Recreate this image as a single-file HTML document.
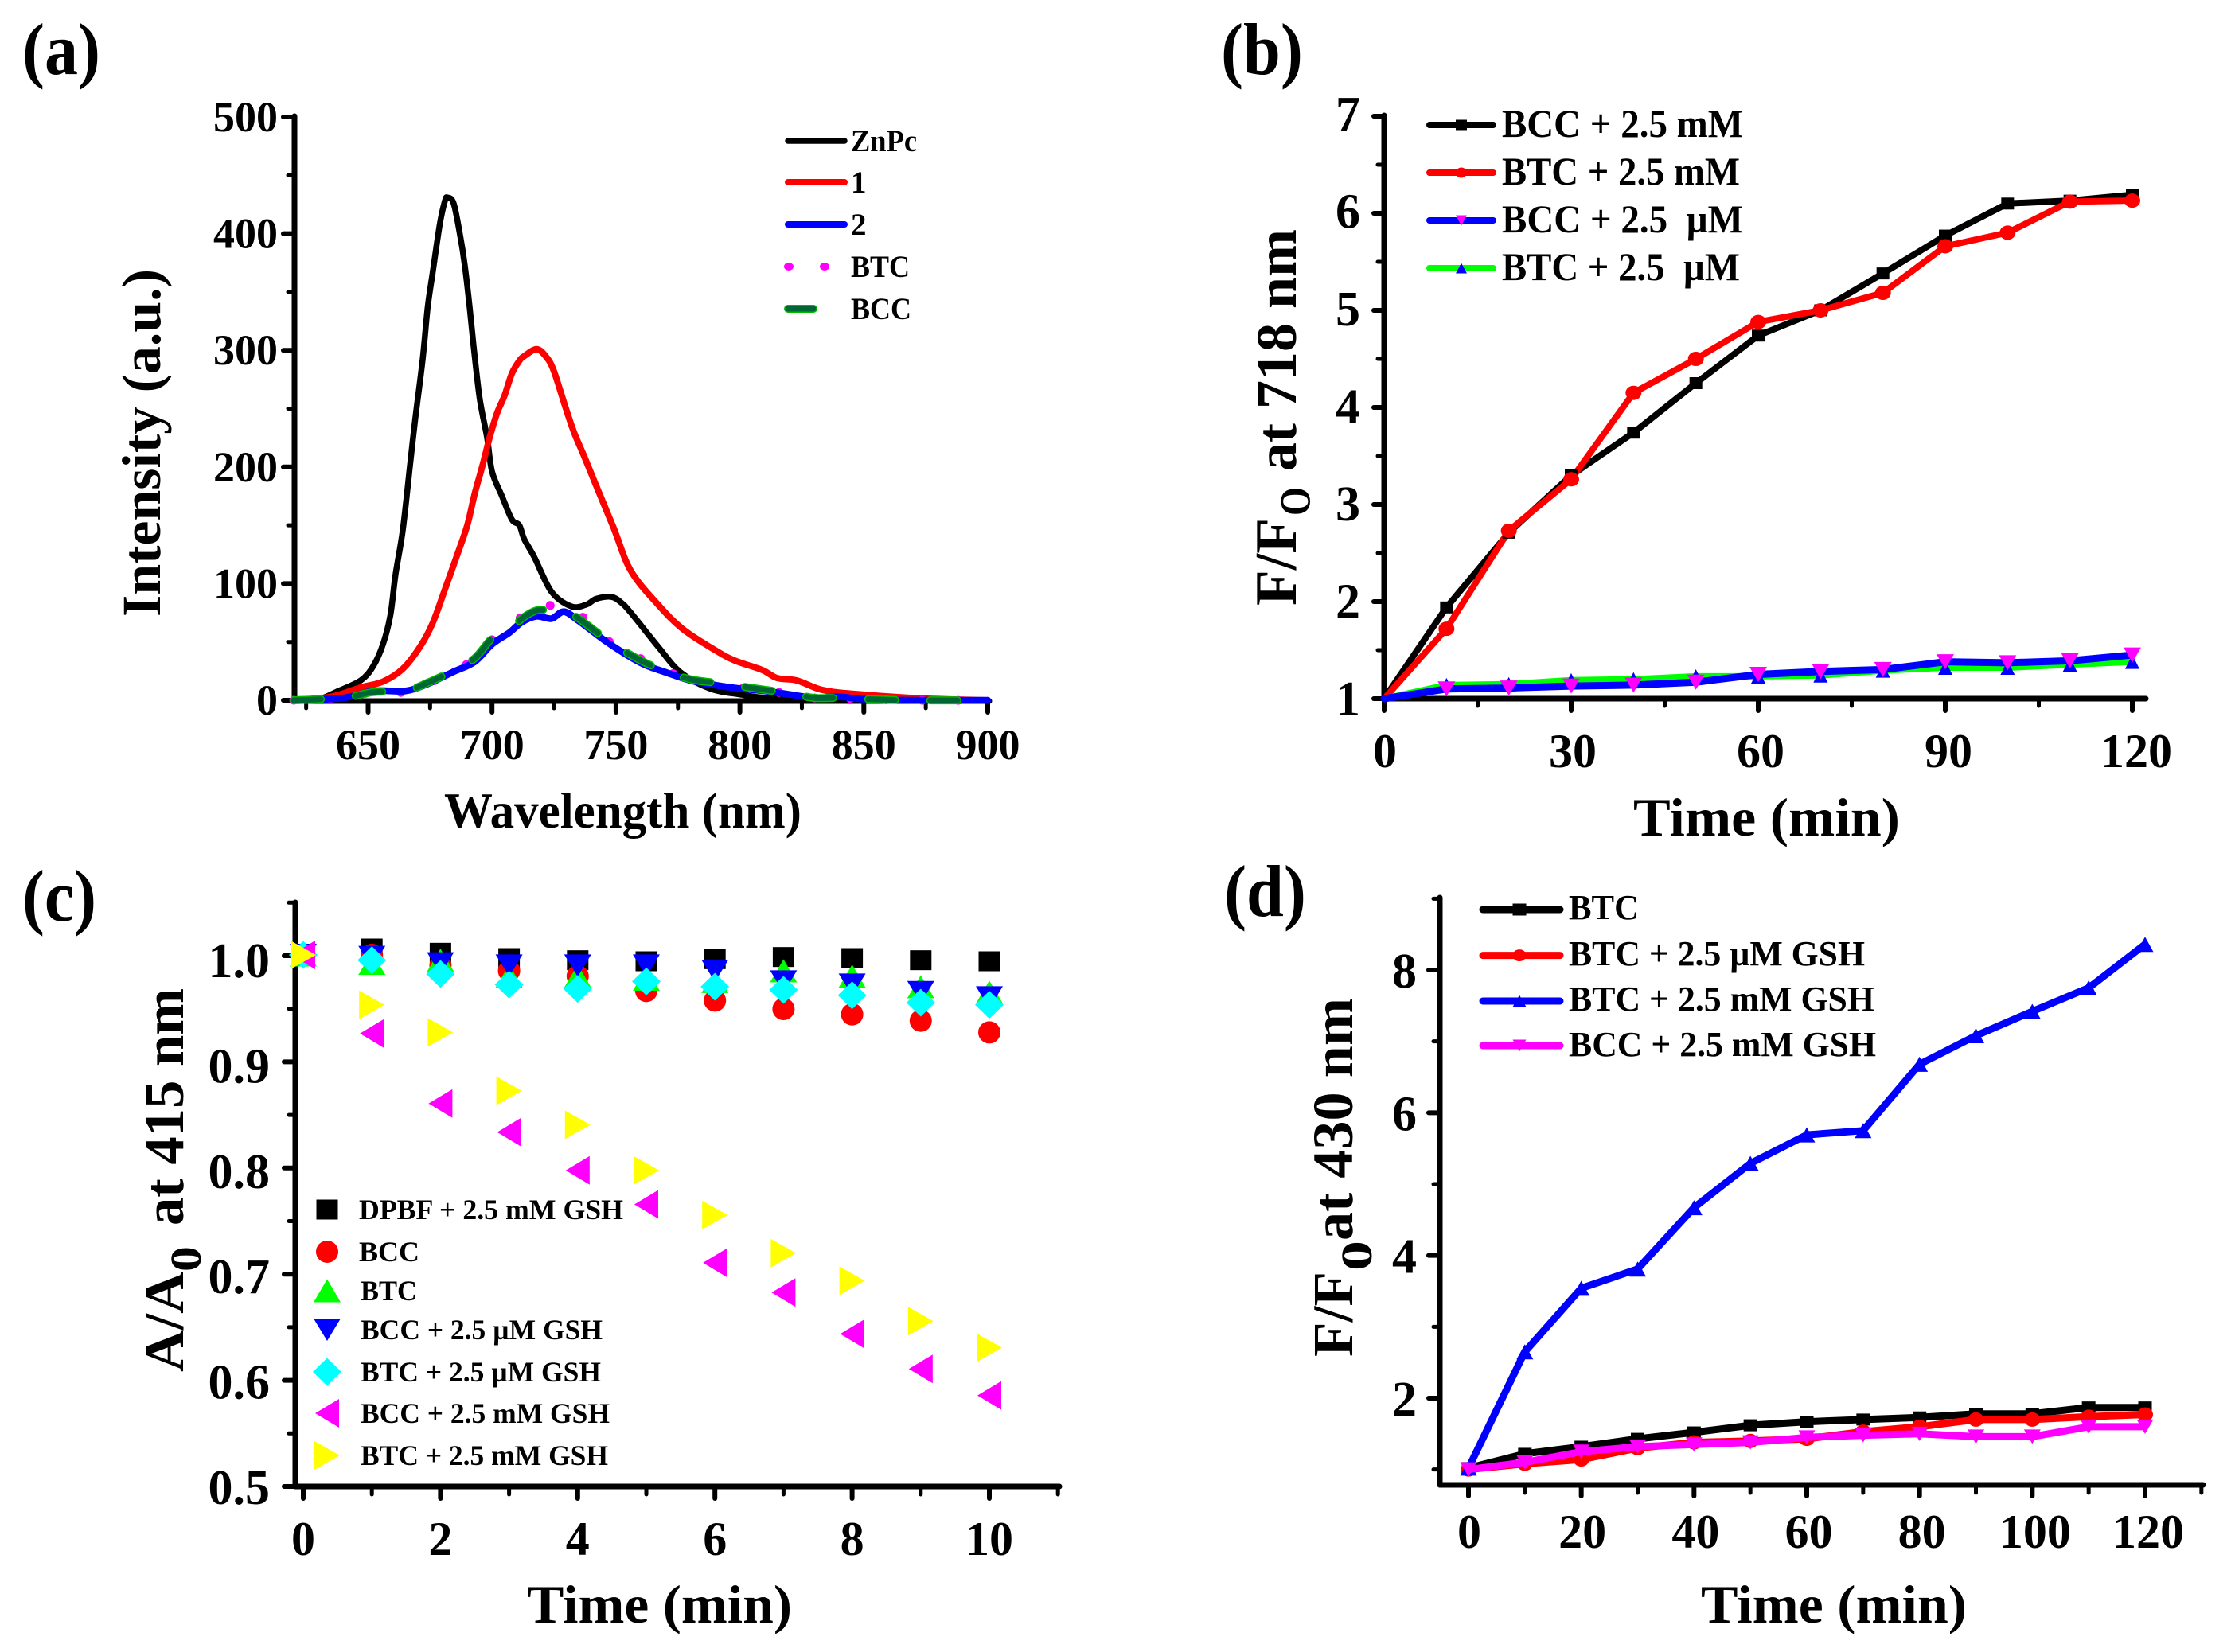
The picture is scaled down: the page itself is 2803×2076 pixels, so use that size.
<!DOCTYPE html>
<html lang="en">
<head>
<meta charset="utf-8">
<title>Fluorescence and absorbance panels</title>
<style>
html,body{margin:0;padding:0;background:#fff;}
svg{display:block;}
text{font-family:"Liberation Serif",serif;font-weight:bold;fill:#000;}
</style>
</head>
<body>
<svg id="figure" xmlns="http://www.w3.org/2000/svg" width="2803" height="2076" viewBox="0 0 2803 2076">
<rect width="2803" height="2076" fill="#fff"/>

<g id="panel-a">
<text x="28" y="93" font-size="92" textLength="98" lengthAdjust="spacingAndGlyphs">(a)</text>
<text transform="translate(201,775) rotate(-90)" font-size="69" textLength="437" lengthAdjust="spacingAndGlyphs">Intensity (a.u.)</text>
<text x="558" y="1040" font-size="63" textLength="449" lengthAdjust="spacingAndGlyphs">Wavelength (nm)</text>
<text x="1069" y="190" font-size="39" textLength="83" lengthAdjust="spacingAndGlyphs">ZnPc</text>
<text x="1069" y="242" font-size="39">1</text>
<text x="1069" y="295" font-size="39">2</text>
<text x="1069" y="348" font-size="39" textLength="74" lengthAdjust="spacingAndGlyphs">BTC</text>
<text x="1069" y="401" font-size="39" textLength="76" lengthAdjust="spacingAndGlyphs">BCC</text>
</g>

<g id="panel-b">
<text x="1534" y="93" font-size="92" textLength="103" lengthAdjust="spacingAndGlyphs">(b)</text>
<g>
<text transform="translate(1628,761) rotate(-90)" font-size="74" textLength="110" lengthAdjust="spacingAndGlyphs">F/F</text>
<text transform="translate(1645.5,648) rotate(-90)" font-size="54" textLength="36" lengthAdjust="spacingAndGlyphs">O</text>
<text transform="translate(1628,592) rotate(-90)" font-size="72" textLength="304" lengthAdjust="spacingAndGlyphs">at 718 nm</text>
</g>
<text x="2052" y="1050" font-size="68" textLength="335" lengthAdjust="spacingAndGlyphs">Time (min)</text>
<text x="1887" y="172" font-size="50" textLength="303" lengthAdjust="spacingAndGlyphs">BCC + 2.5 mM</text>
<text x="1887" y="232" font-size="50" textLength="299" lengthAdjust="spacingAndGlyphs">BTC + 2.5 mM</text>
<text x="1887" y="292" font-size="50" textLength="303" lengthAdjust="spacingAndGlyphs" xml:space="preserve">BCC + 2.5  µM</text>
<text x="1887" y="352" font-size="50" textLength="299" lengthAdjust="spacingAndGlyphs" xml:space="preserve">BTC + 2.5  µM</text>
</g>

<g id="panel-c">
<text x="28" y="1157" font-size="92" textLength="93" lengthAdjust="spacingAndGlyphs">(c)</text>
<g>
<text transform="translate(230,1724) rotate(-90)" font-size="71" textLength="126" lengthAdjust="spacingAndGlyphs">A/A</text>
<text transform="translate(252,1598) rotate(-90)" font-size="55" textLength="32" lengthAdjust="spacingAndGlyphs">0</text>
<text transform="translate(230,1540) rotate(-90)" font-size="71" textLength="298" lengthAdjust="spacingAndGlyphs">at 415 nm</text>
</g>
<text x="662" y="2039" font-size="68" textLength="333" lengthAdjust="spacingAndGlyphs">Time (min)</text>
<text x="451" y="1532" font-size="36" textLength="332" lengthAdjust="spacingAndGlyphs">DPBF + 2.5 mM GSH</text>
<text x="451" y="1585" font-size="36" textLength="76" lengthAdjust="spacingAndGlyphs">BCC</text>
<text x="453" y="1634" font-size="36" textLength="71" lengthAdjust="spacingAndGlyphs">BTC</text>
<text x="453" y="1683" font-size="36" textLength="304" lengthAdjust="spacingAndGlyphs">BCC + 2.5 µM GSH</text>
<text x="453" y="1736" font-size="36" textLength="302" lengthAdjust="spacingAndGlyphs">BTC + 2.5 µM GSH</text>
<text x="453" y="1788" font-size="36" textLength="313" lengthAdjust="spacingAndGlyphs">BCC + 2.5 mM GSH</text>
<text x="453" y="1841" font-size="36" textLength="311" lengthAdjust="spacingAndGlyphs">BTC + 2.5 mM GSH</text>
</g>

<g id="panel-d">
<text x="1538" y="1151" font-size="92" textLength="103" lengthAdjust="spacingAndGlyphs">(d)</text>
<g>
<text transform="translate(1699,1705) rotate(-90)" font-size="72" textLength="107" lengthAdjust="spacingAndGlyphs">F/F</text>
<text transform="translate(1723,1597) rotate(-90)" font-size="55" textLength="38" lengthAdjust="spacingAndGlyphs">0</text>
<text transform="translate(1699,1559) rotate(-90)" font-size="72" textLength="305" lengthAdjust="spacingAndGlyphs">at 430 nm</text>
</g>
<text x="2137" y="2039" font-size="68" textLength="334" lengthAdjust="spacingAndGlyphs">Time (min)</text>
<text x="1971" y="1155" font-size="44" textLength="88" lengthAdjust="spacingAndGlyphs">BTC</text>
<text x="1971" y="1213" font-size="44" textLength="372" lengthAdjust="spacingAndGlyphs">BTC + 2.5 µM GSH</text>
<text x="1971" y="1270" font-size="44" textLength="384" lengthAdjust="spacingAndGlyphs">BTC + 2.5 mM GSH</text>
<text x="1971" y="1327" font-size="44" textLength="386" lengthAdjust="spacingAndGlyphs">BCC + 2.5 mM GSH</text>
</g>
</svg>

<script>
// ---- Panel (a) data ----
const aZnPcWl = [620,630,638,647,652,656,659,661,664,667,669,672,674,676,679,681,682,684.5,687,689,691,692.5,695,698,700,704,708,711,713,717,724,732,738,742,748,752,756,767,776,788,800,811,830,850,900];
const aZnPcInt = [0,1,8,17,29,48,73,107,146,203,241,292,336,366,409,428,431,426,400,373,336,305,259,225,196,175,155,150,138,123,93,80.5,82,87,88.7,84,75,46,24,10,5,2,1,0,0];
const a1Wl = [620,635,647,656,664,671,676,681,686,690,693,696,699,702,705,708,711,713,718,722,725,729.5,733,737,742,749,756,767,777,790,798,809,815,823,833,846,874,900];
const a1Int = [0,3,11,16,27,46,66,95,125,150,177,200,225,246,261,280,291,295,301,294,282,252,230,210,184,148,111,82,61,43,34,26,19,17,9,5.5,1.5,0];
const aBlueWl = [620,640,652,665,674,684,693,700,707,712,718,724,729,735,745,755,762,770,780,790,800,810,820,830,840,850,870,900];
const a2Int = [0,2,8,8,14,24,33,48,58,67,72,70,76,68,52,38,30,24,17,13,10,8,5,2,3,1,0,0];
const aBtcInt = [0,2,7,7,14,25,35,52,62,72,83,81,76,74,54,40,34,25,19,14,11,9,5,2,2,1,0,0];
const aBccInt = [0,2,7,8,15,25,36,53,60,70,77,77,77,70,54,40,32,25,18,15,12,9,6,2,2,1,0,0];
const aXTicks = [650,700,750,800,850,900];
const aXTickLabels = ['650','700','750','800','850','900'];
const aXMinor = [625,675,725,775,825,875];
const aYTicks = [0,100,200,300,400,500];
const aYTickLabels = ['0','100','200','300','400','500'];
const aYMinor = [50,150,250,350,450];

// ---- Panel (b) data ----
const bTime = [0,10,20,30,40,50,60,70,80,90,100,110,120];
const bBccMM = [1,1.94,2.71,3.30,3.74,4.25,4.74,5.0,5.38,5.77,6.10,6.13,6.19];
const bBtcMM = [1,1.72,2.73,3.26,4.15,4.50,4.88,5.0,5.18,5.66,5.80,6.12,6.13];
const bBccUM = [1,1.10,1.11,1.13,1.14,1.17,1.25,1.28,1.30,1.38,1.37,1.39,1.45];
const bBtcUM = [1,1.14,1.15,1.19,1.20,1.23,1.23,1.24,1.29,1.32,1.32,1.35,1.38];
const bXTicks = [0,30,60,90,120];
const bXTickLabels = ['0','30','60','90','120'];
const bXMinor = [15,45,75,105];
const bYTicks = [1,2,3,4,5,6,7];
const bYTickLabels = ['1','2','3','4','5','6','7'];
const bYMinor = [1.5,2.5,3.5,4.5,5.5,6.5];

// ---- Panel (c) data ----
const cTime = [0,1,2,3,4,5,6,7,8,9,10];
const cDpbf = [1,1.006,1.002,.997,.995,.994,.996,.998,.997,.995,.994];
const cBcc = [1,1.0,.99,.985,.98,.966,.957,.949,.944,.938,.927];
const cBtc = [1,.992,.995,.98,.98,.977,.975,.985,.98,.97,.965];
const cBccUM = [1,.998,.992,.99,.99,.99,.985,.975,.972,.965,.96];
const cBtcUM = [1,.995,.982,.972,.968,.975,.97,.967,.962,.955,.953];
const cBccMM = [1,.926,.86,.833,.797,.765,.71,.682,.643,.61,.585];
const cBtcMM = [1,.953,.927,.872,.84,.797,.755,.719,.693,.655,.63];
const cXTicks = [0,2,4,6,8,10];
const cXTickLabels = ['0','2','4','6','8','10'];
const cXMinor = [1,3,5,7,9,11];
const cYTicks = [0.5,0.6,0.7,0.8,0.9,1.0];
const cYTickLabels = ['0.5','0.6','0.7','0.8','0.9','1.0'];
const cYMinor = [0.55,0.65,0.75,0.85,0.95,1.05];

// ---- Panel (d) data ----
const dTime = [0,10,20,30,40,50,60,70,80,90,100,110,120];
const dBtc = [1.02,1.22,1.32,1.43,1.52,1.62,1.67,1.70,1.73,1.78,1.78,1.87,1.87];
const dBtcUM = [1.0,1.08,1.14,1.30,1.38,1.40,1.43,1.53,1.60,1.70,1.70,1.74,1.77];
const dBtcMM = [1.02,2.65,3.54,3.81,4.67,5.29,5.69,5.75,6.68,7.08,7.42,7.75,8.36];
const dBccMM = [1.0,1.10,1.25,1.32,1.35,1.38,1.45,1.48,1.50,1.46,1.46,1.60,1.60];
const dXTicks = [0,20,40,60,80,100,120];
const dXTickLabels = ['0','20','40','60','80','100','120'];
const dXMinor = [10,30,50,70,90,110,130];
const dYTicks = [2,4,6,8];
const dYTickLabels = ['2','4','6','8'];
const dYMinor = [1,3,5,7,9];

const NS = 'http://www.w3.org/2000/svg';
function mk(tag, attrs, name, parent) {
  const el = document.createElementNS(NS, tag);
  for (const k in attrs) el.setAttribute(k, attrs[k]);
  
  
  parent.appendChild(el);
  return el;
}
function linear(d0, d1, r0, r1) {
  return v => r0 + (v - d0) * (r1 - r0) / (d1 - d0);
}
function seg(parent, x1, y1, x2, y2, w, name) {
  return mk('line', {x1: x1, y1: y1, x2: x2, y2: y2, stroke: '#000', 'stroke-width': w, 'stroke-linecap': 'round'}, name, parent);
}
function axes(parent, o) {
  const left = o.axisX, bottom = o.axisY;
  seg(parent, left, o.topY, left, bottom, 7, 'y-axis-line');
  seg(parent, left, bottom, o.endX, bottom, 7, 'x-axis-line');
  o.xTicks.forEach((v, i) => {
    const x = o.sx(v);
    seg(parent, x, bottom, x, bottom + o.xMajorLen, 6, 'x-tick');
    const dx = o.xLabelDx ? o.xLabelDx(v) : 0;
    const t = mk('text', {x: x + dx, y: o.xLabelY, 'font-size': o.xFont, 'text-anchor': 'middle'}, 'x-tick-label', parent);
    t.textContent = o.xLabels[i];
  });
  o.xMinor.forEach(v => {
    const x = o.sx(v);
    seg(parent, x, bottom, x, bottom + o.xMinorLen, 5, 'x-minor-tick');
  });
  o.yTicks.forEach((v, i) => {
    const y = o.sy(v);
    seg(parent, left, y, left - o.yMajorLen, y, 6, 'y-tick');
    const t = mk('text', {x: o.yLabelX, y: y + o.yLabelDy(v), 'font-size': o.yFont, 'text-anchor': 'end'}, 'y-tick-label', parent);
    t.textContent = o.yLabels[i];
  });
  o.yMinor.forEach(v => {
    const y = o.sy(v);
    seg(parent, left, y, left - o.yMinorLen, y, 5, 'y-minor-tick');
  });
}
function curve(parent, xs, ys, sx, sy, style, name) {
  const pts = xs.map((x, i) => sx(x).toFixed(1) + ',' + sy(ys[i]).toFixed(1)).join(' ');
  const attrs = {points: pts, fill: 'none', 'stroke-linejoin': 'round', 'stroke-linecap': 'round'};
  for (const k in style) attrs[k] = style[k];
  return mk('polyline', attrs, name, parent);
}
// Catmull-Rom smoothed line through the data points, for the spectra in panel (a)
function smooth(parent, xs, ys, sx, sy, style, name) {
  const p = xs.map((x, i) => [sx(x), sy(ys[i])]);
  let d = 'M' + p[0][0].toFixed(1) + ' ' + p[0][1].toFixed(1);
  for (let i = 0; i < p.length - 1; i++) {
    const a = p[Math.max(i - 1, 0)], b = p[i], c = p[i + 1], e = p[Math.min(i + 2, p.length - 1)];
    const c1x = b[0] + (c[0] - a[0]) / 6, c1y = b[1] + (c[1] - a[1]) / 6;
    const c2x = c[0] - (e[0] - b[0]) / 6, c2y = c[1] - (e[1] - b[1]) / 6;
    d += 'C' + c1x.toFixed(1) + ' ' + c1y.toFixed(1) + ' ' + c2x.toFixed(1) + ' ' + c2y.toFixed(1) + ' ' + c[0].toFixed(1) + ' ' + c[1].toFixed(1);
  }
  const attrs = {d: d, fill: 'none', 'stroke-linejoin': 'round', 'stroke-linecap': 'round'};
  for (const k in style) attrs[k] = style[k];
  return mk('path', attrs, name, parent);
}
function marker(parent, kind, cx, cy, w, h, fill, name) {
  const hw = w / 2, hh = h / 2;
  if (kind === 'square') {
    return mk('rect', {x: cx - hw, y: cy - hh, width: w, height: h, fill: fill}, name, parent);
  }
  if (kind === 'circle') {
    return mk('ellipse', {cx: cx, cy: cy, rx: hw, ry: hh, fill: fill}, name, parent);
  }
  let p;
  if (kind === 'up') p = [[cx, cy - hh], [cx + hw, cy + hh], [cx - hw, cy + hh]];
  if (kind === 'down') p = [[cx - hw, cy - hh], [cx + hw, cy - hh], [cx, cy + hh]];
  if (kind === 'left') p = [[cx - hw, cy], [cx + hw, cy - hh], [cx + hw, cy + hh]];
  if (kind === 'right') p = [[cx - hw, cy - hh], [cx + hw, cy], [cx - hw, cy + hh]];
  if (kind === 'diamond') p = [[cx, cy - hh], [cx + hw, cy], [cx, cy + hh], [cx - hw, cy]];
  return mk('polygon', {points: p.map(q => q.join(',')).join(' '), fill: fill}, name, parent);
}
function swatchLine(parent, x1, x2, y, color, w, name) {
  return mk('line', {x1: x1, y1: y, x2: x2, y2: y, stroke: color, 'stroke-width': w, 'stroke-linecap': 'round'}, name, parent);
}

// ================= Panel a =================
(function () {
  const g = document.getElementById('panel-a');
  const sx = linear(650, 900, 462.5, 1241);
  const sy = linear(0, 500, 880, 147);
  axes(g, {sx: sx, sy: sy, axisX: 370, axisY: 881, topY: 146, endX: 1243,
    xTicks: aXTicks, xLabels: aXTickLabels, xMinor: aXMinor, xMajorLen: 14, xMinorLen: 9, xLabelY: 954, xFont: 54,
    yTicks: aYTicks, yLabels: aYTickLabels, yMinor: aYMinor, yMajorLen: 14, yMinorLen: 8, yLabelX: 349, yLabelDy: () => 18, yFont: 54});
  smooth(g, aZnPcWl, aZnPcInt, sx, sy, {stroke: '#000', 'stroke-width': 7.5}, 'series-znpc');
  smooth(g, a1Wl, a1Int, sx, sy, {stroke: '#f00', 'stroke-width': 8}, 'series-1');
  smooth(g, aBlueWl, aBtcInt, sx, sy, {stroke: '#f0f', 'stroke-width': 11, 'stroke-dasharray': '0.1 45'}, 'series-btc');
  smooth(g, aBlueWl, a2Int, sx, sy, {stroke: '#00f', 'stroke-width': 8.5}, 'series-2');
  smooth(g, aBlueWl, aBccInt, sx, sy, {stroke: '#0b0', 'stroke-width': 10, 'stroke-dasharray': '34 44'}, 'series-bcc-halo');
  smooth(g, aBlueWl, aBccInt, sx, sy, {stroke: '#063', 'stroke-width': 7, 'stroke-dasharray': '34 44'}, 'series-bcc');
  swatchLine(g, 990, 1061, 177, '#000', 7.5, 'legend-line-znpc');
  swatchLine(g, 990, 1061, 229, '#f00', 8, 'legend-line-1');
  swatchLine(g, 990, 1061, 282, '#00f', 8, 'legend-line-2');
  marker(g, 'circle', 991, 335, 12, 10, '#f0f', 'legend-dot-btc');
  marker(g, 'circle', 1036, 335, 12, 10, '#f0f', 'legend-dot-btc');
  swatchLine(g, 990, 1022, 388, '#0b0', 10, 'legend-dash-bcc-halo');
  swatchLine(g, 990, 1022, 388, '#063', 7, 'legend-dash-bcc');
})();

// ================= Panel b =================
(function () {
  const g = document.getElementById('panel-b');
  const sx = linear(0, 120, 1739, 2679);
  const sy = linear(1, 7, 878, 146);
  axes(g, {sx: sx, sy: sy, axisX: 1739, axisY: 878, topY: 145, endX: 2696,
    xTicks: bXTicks, xLabels: bXTickLabels, xMinor: bXMinor, xMajorLen: 15, xMinorLen: 9, xLabelY: 964, xFont: 60, xLabelDx: v => 1 + v / 30,
    yTicks: bYTicks, yLabels: bYTickLabels, yMinor: bYMinor, yMajorLen: 13, yMinorLen: 8, yLabelX: 1709, yLabelDy: v => 21 - (v - 1) * 0.5, yFont: 62});
  const bcc = {vals: bBccMM, color: '#000', w: 8, kind: 'square', mw: 16, mh: 15, mc: '#000', ly: 157, name: 'bcc-2-5-mm'};
  const btc = {vals: bBtcMM, color: '#f00', w: 8, kind: 'circle', mw: 20, mh: 18, mc: '#f00', ly: 217, name: 'btc-2-5-mm'};
  const btcU = {vals: bBtcUM, color: '#0f0', w: 8, kind: 'up', mw: 18, mh: 18, mc: '#00f', ly: 337, name: 'btc-2-5-um'};
  const bccU = {vals: bBccUM, color: '#00f', w: 9, kind: 'down', mw: 22, mh: 19, mc: '#f0f', ly: 277, name: 'bcc-2-5-um'};
  [bcc, btc, btcU, bccU].forEach(s => {
    curve(g, bTime, s.vals, sx, sy, {stroke: s.color, 'stroke-width': s.w}, 'series-' + s.name);
  });
  [btcU, bccU, bcc, btc].forEach(s => {
    bTime.forEach((t, i) => {
      if (i > 0) marker(g, s.kind, sx(t), sy(s.vals[i]), s.mw, s.mh, s.mc, 'point-' + s.name);
    });
  });
  [bcc, btc, bccU, btcU].forEach(s => {
    swatchLine(g, 1796, 1876, s.ly, s.color, 8, 'legend-line-' + s.name);
    marker(g, s.kind, 1836, s.ly, 14, 13, s.mc, 'legend-marker-' + s.name);
  });
})();

// ================= Panel c =================
(function () {
  const g = document.getElementById('panel-c');
  const sx = linear(0, 10, 381, 1243);
  const sy = linear(0.5, 1.0, 1868, 1201);
  axes(g, {sx: sx, sy: sy, axisX: 371, axisY: 1868, topY: 1134, endX: 1331,
    xTicks: cXTicks, xLabels: cXTickLabels, xMinor: cXMinor, xMajorLen: 15, xMinorLen: 10, xLabelY: 1954, xFont: 60,
    yTicks: cYTicks, yLabels: cYTickLabels, yMinor: cYMinor, yMajorLen: 14, yMinorLen: 8, yLabelX: 339, yLabelDy: v => 22 + (v - 0.5) * 10, yFont: 62});
  const series = [
    {vals: cDpbf, kind: 'square', w: 27, h: 25, color: '#000', ly: 1520, name: 'dpbf'},
    {vals: cBcc, kind: 'circle', w: 28, h: 28, color: '#f00', ly: 1573, name: 'bcc'},
    {vals: cBtc, kind: 'up', w: 34, h: 29, color: '#0f0', ly: 1622, name: 'btc'},
    {vals: cBccUM, kind: 'down', w: 34, h: 28, color: '#00f', ly: 1671, name: 'bcc-um-gsh'},
    {vals: cBtcUM, kind: 'diamond', w: 36, h: 35, color: '#0ff', ly: 1724, name: 'btc-um-gsh'},
    {vals: cBccMM, kind: 'left', w: 30, h: 36, color: '#f0f', ly: 1776, name: 'bcc-mm-gsh'},
    {vals: cBtcMM, kind: 'right', w: 32, h: 36, color: '#ff0', ly: 1829, name: 'btc-mm-gsh'}
  ];
  series.forEach(s => {
    cTime.forEach((t, i) => {
      marker(g, s.kind, sx(t), sy(s.vals[i]) - 1, s.w, s.h, s.color, 'point-' + s.name);
    });
    marker(g, s.kind, 411, s.ly, s.w, s.h, s.color, 'legend-marker-' + s.name);
  });
})();

// ================= Panel d =================
(function () {
  const g = document.getElementById('panel-d');
  const sx = linear(0, 120, 1845, 2695);
  const sy = linear(2, 8, 1757, 1219);
  axes(g, {sx: sx, sy: sy, axisX: 1809, axisY: 1866, topY: 1128, endX: 2768,
    xTicks: dXTicks, xLabels: dXTickLabels, xMinor: dXMinor, xMajorLen: 14, xMinorLen: 10, xLabelY: 1945, xFont: 60, xLabelDx: v => 1 + v / 40,
    yTicks: dYTicks, yLabels: dYTickLabels, yMinor: dYMinor, yMajorLen: 14, yMinorLen: 8, yLabelX: 1780, yLabelDy: () => 22, yFont: 62});
  const series = [
    {vals: dBtc, color: '#000', kind: 'square', mw: 17, mh: 15, ly: 1143, name: 'btc'},
    {vals: dBtcUM, color: '#f00', kind: 'circle', mw: 20, mh: 18, ly: 1200.6, name: 'btc-um-gsh'},
    {vals: dBtcMM, color: '#00f', kind: 'up', mw: 21, mh: 19, ly: 1258, name: 'btc-mm-gsh'},
    {vals: dBccMM, color: '#f0f', kind: 'down', mw: 21, mh: 18, ly: 1314, name: 'bcc-mm-gsh'}
  ];
  series.forEach(s => {
    curve(g, dTime, s.vals, sx, sy, {stroke: s.color, 'stroke-width': 9}, 'series-' + s.name);
    dTime.forEach((t, i) => {
      marker(g, s.kind, sx(t), sy(s.vals[i]), s.mw, s.mh, s.color, 'point-' + s.name);
    });
    swatchLine(g, 1863, 1960, s.ly, s.color, 9, 'legend-line-' + s.name);
    marker(g, s.kind, 1909, s.ly, 17, 15, s.color, 'legend-marker-' + s.name);
  });
})();
</script>
</body>
</html>
